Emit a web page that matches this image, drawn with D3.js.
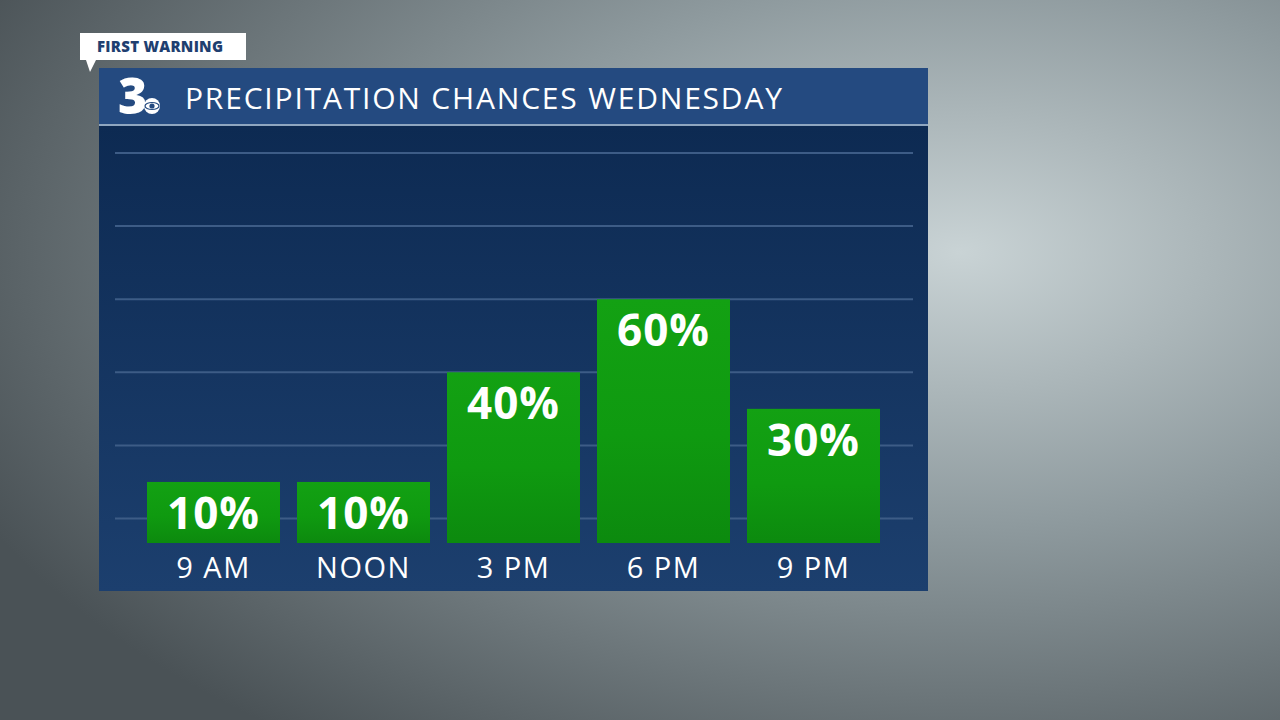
<!DOCTYPE html>
<html><head><meta charset="utf-8">
<script src="https://cdn.jsdelivr.net/npm/d3@7"></script>
<style>body{margin:0;overflow:hidden}svg{display:block}</style>
</head><body><svg id="chart" width="1280" height="720"></svg>
<script>
const times = ["9 AM", "NOON", "3 PM", "6 PM", "9 PM"];
const chances = [10, 10, 40, 60, 30];
const gridValues = [0, 20, 40, 60, 80, 100];

const svg = d3.select("#chart");
const defs = svg.append("defs");

// background
const bg = defs.append("radialGradient").attr("id", "bg").attr("cx", "75%").attr("cy", "35%").attr("r", "85%");
bg.append("stop").attr("offset", "0%").attr("stop-color", "#c9d3d5");
bg.append("stop").attr("offset", "45%").attr("stop-color", "#8e9a9e");
bg.append("stop").attr("offset", "100%").attr("stop-color", "#4a5256");
svg.append("rect").attr("width", 1280).attr("height", 720).attr("fill", "url(#bg)");

// panel
const panel = defs.append("linearGradient").attr("id", "panel").attr("x1", 0).attr("y1", 0).attr("x2", 0).attr("y2", 1);
panel.append("stop").attr("offset", "0%").attr("stop-color", "#0d2a52");
panel.append("stop").attr("offset", "100%").attr("stop-color", "#1c3f6e");
svg.append("rect").attr("x", 99).attr("y", 126).attr("width", 829).attr("height", 465).attr("fill", "url(#panel)");

// title bar
svg.append("rect").attr("x", 99).attr("y", 68).attr("width", 829).attr("height", 58).attr("fill", "#244a80");
svg.append("rect").attr("x", 99).attr("y", 124).attr("width", 829).attr("height", 2).attr("fill", "#8fa6c0");
svg.append("text").attr("x", 185).attr("y", 109).attr("fill", "#fff")
  .attr("font-family", "Open Sans, sans-serif").attr("font-size", 30)
  .attr("textLength", 597).attr("lengthAdjust", "spacing").text("PRECIPITATION CHANCES WEDNESDAY");
// logo
svg.append("text").attr("x", 118).attr("y", 114).attr("fill", "#fff")
  .attr("font-family", "Open Sans, sans-serif").attr("font-weight", 800).attr("font-size", 50).text("3");
svg.append("circle").attr("cx", 152).attr("cy", 106).attr("r", 8).attr("fill", "#fff");
svg.append("ellipse").attr("cx", 152).attr("cy", 106).attr("rx", 7).attr("ry", 3.5).attr("fill", "none").attr("stroke", "#244a80").attr("stroke-width", 1.2);
svg.append("circle").attr("cx", 152).attr("cy", 106).attr("r", 2.6).attr("fill", "#244a80");

// FIRST WARNING tag
svg.append("path").attr("d", "M80,33 H246 V60 H96 L90,72 L86,60 H80 Z").attr("fill", "#fff");
svg.append("text").attr("x", 97).attr("y", 52).attr("fill", "#1f3f70")
  .attr("font-family", "Open Sans, sans-serif").attr("font-weight", 800).attr("font-size", 15)
  .attr("textLength", 126).attr("lengthAdjust", "spacing").text("FIRST WARNING");

// scales
const x = d3.scaleBand().domain(times).range([147 - 8.5, 880 + 8.5]).paddingInner(17 / 150).paddingOuter(0.0567);
const y = d3.scaleLinear().domain([0, 100]).range([518.5, 153]);
const base = 543;

svg.append("g").selectAll("line").data(gridValues).join("line")
  .attr("x1", 115).attr("x2", 913).attr("y1", d => y(d)).attr("y2", d => y(d))
  .attr("stroke", "#3d5c86").attr("stroke-width", 2);

const bar = defs.append("linearGradient").attr("id", "bar").attr("x1", 0).attr("y1", 0).attr("x2", 0).attr("y2", 1);
bar.append("stop").attr("offset", "0%").attr("stop-color", "#13a113");
bar.append("stop").attr("offset", "55%").attr("stop-color", "#0f9a10");
bar.append("stop").attr("offset", "100%").attr("stop-color", "#0c8a0e");

const g = svg.append("g");
g.selectAll("rect").data(chances).join("rect")
  .attr("x", (d, i) => x(times[i])).attr("width", x.bandwidth())
  .attr("y", d => y(d)).attr("height", d => base - y(d)).attr("fill", "url(#bar)");
g.selectAll("text.v").data(chances).join("text").attr("class", "v")
  .attr("x", (d, i) => x(times[i]) + x.bandwidth() / 2).attr("y", d => y(d) + 47)
  .attr("text-anchor", "middle").attr("fill", "#fff")
  .attr("font-family", "Open Sans, sans-serif").attr("font-weight", 700).attr("font-size", 44)
  .attr("letter-spacing", 1).text(d => d + "%");
g.selectAll("text.t").data(times).join("text").attr("class", "t")
  .attr("x", d => x(d) + x.bandwidth() / 2).attr("y", 578)
  .attr("text-anchor", "middle").attr("fill", "#fff")
  .attr("font-family", "Open Sans, sans-serif").attr("font-size", 29)
  .attr("letter-spacing", 1.5).text(d => d);
</script></body></html>
